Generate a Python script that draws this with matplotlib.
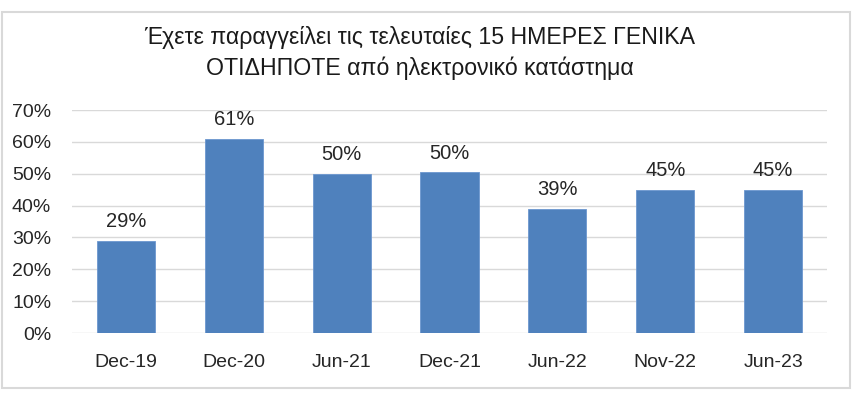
import matplotlib.pyplot as plt
from matplotlib.patches import Rectangle
from matplotlib.ticker import PercentFormatter

plt.rcParams['font.family'] = ['Liberation Sans', 'DejaVu Sans']

categories = ['Dec-19', 'Dec-20', 'Jun-21', 'Dec-21', 'Jun-22', 'Nov-22', 'Jun-23']
values = [29, 61, 50, 50.5, 39, 45, 45]
labels = ['29%', '61%', '50%', '50%', '39%', '45%', '45%']
title = 'Έχετε παραγγείλει τις τελευταίες 15 ΗΜΕΡΕΣ ΓΕΝΙΚΑ\nΟΤΙΔΗΠΟΤΕ από ηλεκτρονικό κατάστημα'

W, H = 856, 394
fig = plt.figure(figsize=(W / 100, H / 100), dpi=100)
fig.patch.set_facecolor('white')

# outer chart border
fig.patches.append(Rectangle((2 / W, 1 - 388 / H), 848 / W, 376 / H,
                             transform=fig.transFigure, fill=False,
                             edgecolor='#D9D9D9', linewidth=1.5))

ax = fig.add_axes([72 / W, 1 - 333 / H, 755 / W, 223 / H])
x = range(len(categories))
bars = ax.bar(x, values, width=0.54, color='#4F81BD', edgecolor='#6C97CF', linewidth=0.6, zorder=3)

for b, lab in zip(bars, labels):
    ax.text(b.get_x() + b.get_width() / 2, b.get_height() + 3.0, lab,
            ha='center', va='bottom', fontsize=14.5, color='#262626')

ax.set_xlim(-0.5, len(categories) - 0.5)
ax.set_ylim(0, 70)
ax.set_yticks(range(0, 71, 10))
ax.yaxis.set_major_formatter(PercentFormatter(decimals=0))
ax.set_xticks(list(x))
ax.set_xticklabels(categories)
ax.tick_params(axis='both', length=0, labelsize=14, labelcolor='#262626')
ax.tick_params(axis='x', pad=15)
ax.tick_params(axis='y', pad=15)
ax.grid(axis='y', color='#D9D9D9', linewidth=1, zorder=0)
for s in ax.spines.values():
    s.set_visible(False)

fig.text(420 / W, 1 - 53 / H, title, ha='center', va='center',
         fontsize=16.7, color='#1a1a1a', linespacing=1.44)

fig.savefig('out.png', dpi=100)
